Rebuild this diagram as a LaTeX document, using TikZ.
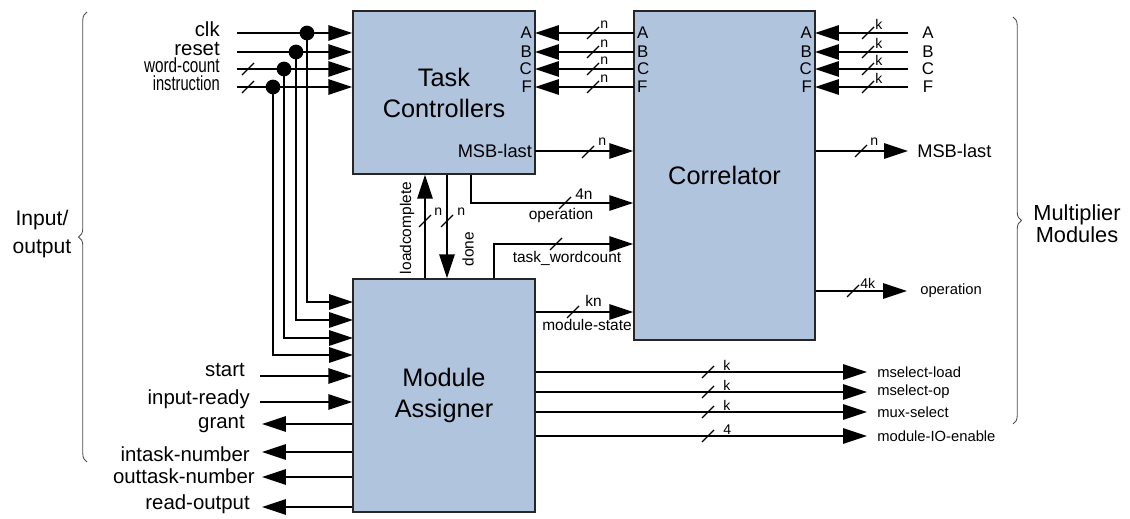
\documentclass[tikz,border=0pt]{standalone}
\usepackage{fontspec}
\setmainfont{Liberation Sans}
\usetikzlibrary{arrows.meta,decorations.pathreplacing}
\definecolor{boxblue}{HTML}{B0C4DE}
% short slash across a bus line
\newcommand{\busmark}[1]{\draw[line width=0.8pt] #1 +(-6,6) -- +(6,-6);}

\begin{document}
\begin{tikzpicture}[x=0.025cm, y=-0.025cm, >={Triangle[length=17pt,width=11pt]},
    box/.style={draw=black!85, line width=1pt, fill=boxblue, align=center, font=\fontsize{18}{22}\selectfont, inner sep=0pt},
    sig/.style={line width=1pt},
    lbl/.style={font=\fontsize{14.5}{17}\selectfont, inner sep=0pt},
    port/.style={font=\fontsize{12}{13}\selectfont, inner sep=2pt},
    midlbl/.style={font=\fontsize{11}{13}\selectfont, inner sep=0pt},
    buswd/.style={font=\fontsize{10}{12}\selectfont, inner sep=0pt, anchor=south west},
    outlbl/.style={font=\fontsize{10.5}{12}\selectfont, inner sep=0pt, anchor=west},
    junction/.style={circle, fill, inner sep=0pt, minimum size=10.5pt},
    side/.style={font=\fontsize{15}{20}\selectfont, align=center, inner sep=0pt},
    curly/.style={decorate, decoration={brace, amplitude=6pt}, line width=0.6pt, draw=black!70}]

    \useasboundingbox (0,0) rectangle (1130,519);

    % blocks
    \node[box, minimum width=4.55cm, minimum height=4.075cm] (tc) at (444,92.5) {Task\\Controllers};
    \node[box, minimum width=4.525cm, minimum height=8.225cm] (corr) at (724.5,175.5) {Correlator};
    \node[box, minimum width=4.55cm, minimum height=5.825cm] (ma) at (444,395.5) {Module\\Assigner};

    % A/B/C/F buses
    \foreach \p/\y in {A/33, B/52, C/69, F/87} {
        \node[port, anchor=east] (tc\p) at (535,\y) {\p};
        \node[port, anchor=west] (cl\p) at (634,\y) {\p};
        \node[port, anchor=east] (cr\p) at (815,\y) {\p};
        \node[port] (ext\p) at (928,\y) {\p};
        \coordinate (in\p) at (908,\y);
        \draw[sig,->] (cl\p.west) -- (tc\p.east);
        \draw[sig,->] (in\p) -- (cr\p.east);
        \busmark{(593,\y)}
        \busmark{(868,\y)}
        \node[buswd] (n\p) at (600,\y-4) {n};
        \node[buswd] (k\p) at (875,\y-3) {k};
    }

    % global inputs, shared by both controllers
    \foreach \s/\txt/\y/\xd/\ym in {clk/clk/33/307/302, rst/reset/52/296/320, wc/\scalebox{0.75}[1]{word-count}/69/284/338, ins/\scalebox{0.72}[1]{instruction}/87/273/355} {
        \node[lbl, anchor=base east] (l\s) at (220,\y+3.5) {\txt};
        \coordinate (s\s) at (237,\y);
        \node[junction] (d\s) at (\xd,\y) {};
        \coordinate (m\s) at (353,\ym);
        \draw[sig,->] (s\s) -- (s\s -| tc.west);
        \draw[sig,->] (d\s.center) |- (m\s);
    }
    \busmark{(248,69)}
    \busmark{(248,87)}

    % module assigner inputs
    \foreach \s/\txt/\y/\ty/\tx in {st/start/376/370.5/245, ir/input-ready/402/399.5/250} {
        \node[lbl, anchor=east] (l\s) at (\tx,\ty) {\txt};
        \coordinate (s\s) at (260,\y);
        \draw[sig,->] (s\s) -- (s\s -| ma.west);
    }
    % module assigner outputs
    \foreach \s/\txt/\y/\ty/\tx in {gr/grant/424/424.5/245, itn/intask-number/452/454/250, otn/outtask-number/477/476.5/255, ro/read-output/507/504.5/250} {
        \node[lbl, anchor=east] (l\s) at (\tx,\ty) {\txt};
        \coordinate (s\s) at (262,\y);
        \draw[sig,->] (s\s -| ma.west) -- (s\s);
    }

    % task controllers -> correlator
    \node[port, font=\fontsize{13}{14}\selectfont, anchor=east] (tcmsb) at (535,151) {MSB-last};
    \draw[sig,->] (tcmsb.east) -- (tcmsb.east -| corr.west);
    \busmark{(588,152)}
    \node[buswd] (nmsb) at (598,146) {n};

    \coordinate (opknee) at (471,203);
    \draw[sig,->] (opknee |- tc.south) -- (opknee) -- (opknee -| corr.west);
    \busmark{(565,203)}
    \node[buswd, font=\fontsize{11}{13}\selectfont] (nop) at (575,200) {4n};
    \node[midlbl] (lop) at (561,215) {operation};

    % module assigner -> correlator
    \coordinate (twknee) at (494,244);
    \draw[sig,->] (twknee |- ma.north) -- (twknee) -- (twknee -| corr.west);
    \busmark{(556,244)}
    \node[midlbl] (ltw) at (567,258) {task\_wordcount};

    \coordinate (msy) at (600,312);
    \draw[sig,->] (ma.east |- msy) -- (corr.west |- msy);
    \busmark{(573,312)}
    \node[buswd, font=\fontsize{11}{13}\selectfont] (nms) at (585,307) {kn};
    \node[midlbl] (lms) at (587,325) {module-state};

    % handshake between assigner and controllers
    \coordinate (lcx) at (425,220);
    \draw[sig,->] (lcx |- ma.north) -- (lcx |- tc.south);
    \busmark{(425,221)}
    \node[buswd] (nlc) at (434,216) {n};
    \node[midlbl, rotate=90] (llc) at (407,228) {loadcomplete};

    \coordinate (dnx) at (447,220);
    \draw[sig,->] (dnx |- tc.south) -- (dnx |- ma.north);
    \busmark{(447,221)}
    \node[buswd] (ndn) at (457,216) {n};
    \node[midlbl, rotate=90] (ldn) at (468,249) {done};

    % correlator outputs
    \node[port, font=\fontsize{13}{14}\selectfont, anchor=west, inner sep=0pt] (cmsb) at (917,151) {MSB-last};
    \coordinate (cmsbend) at (908,151);
    \draw[sig,->] (cmsbend -| corr.east) -- (cmsbend);
    \busmark{(861,151)}
    \node[buswd] (ncmsb) at (870,146) {n};

    \node[outlbl] (cop) at (920,291) {operation};
    \coordinate (copend) at (907,291);
    \draw[sig,->] (copend -| corr.east) -- (copend);
    \busmark{(853,291)}
    \node[buswd] (ncop) at (860,289) {4k};

    % module assigner outputs to multipliers
    \foreach \s/\txt/\y/\w in {ml/mselect-load/372/k, mo/mselect-op/392/k, mx/mux-select/412/k, mio/module-IO-enable/436/4} {
        \node[outlbl] (o\s) at (877,\y) {\txt};
        \coordinate (e\s) at (867,\y);
        \draw[sig,->] (e\s -| ma.east) -- (e\s);
        \busmark{(708,\y)}
        \node[buswd] (w\s) at (723,\y-1) {\w};
    }

    % grouping braces
    \draw[curly] (87,462) -- (87,12);
    \node[side] (io) at (42,234) {Input/\\output};
    \draw[curly] (1013,17) -- (1013,424);
    \node[side, font=\fontsize{15.5}{15.5}\selectfont] (mm) at (1077,224) {Multiplier\\Modules};
\end{tikzpicture}
\end{document}
